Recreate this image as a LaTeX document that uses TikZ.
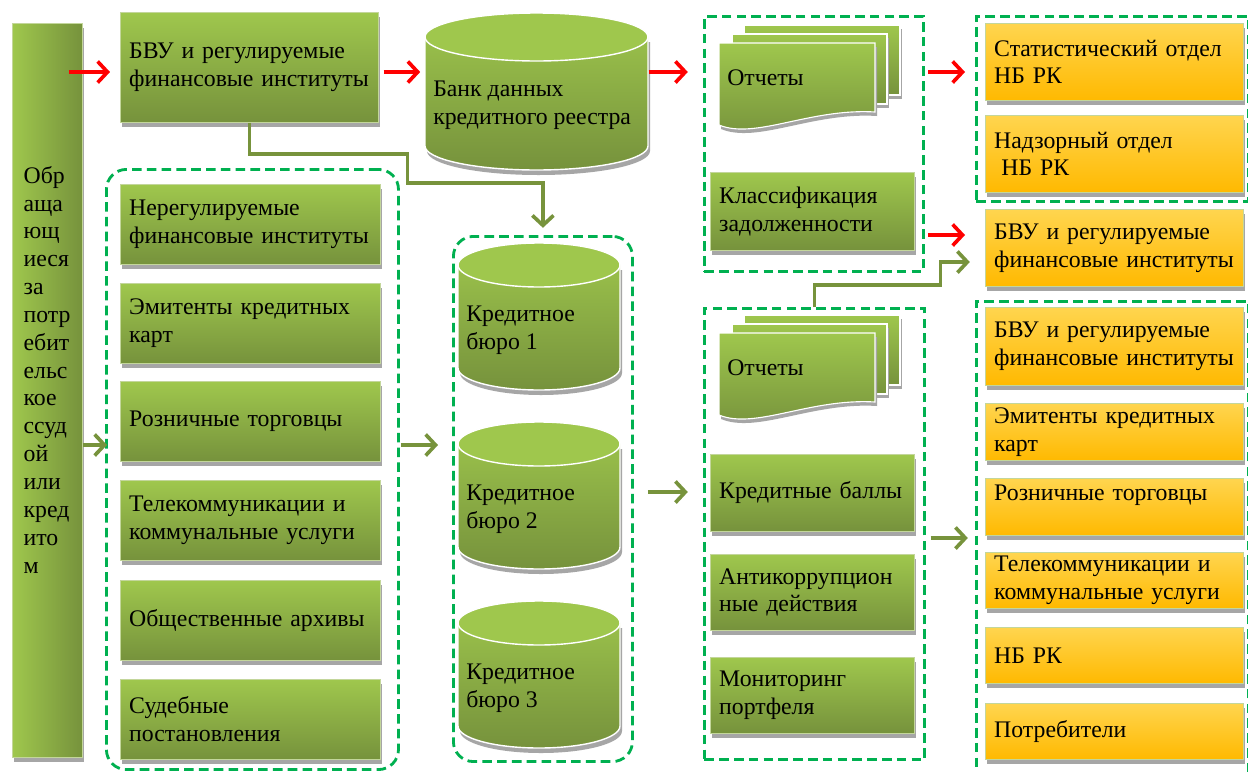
\documentclass[tikz,border=0pt]{standalone}
\usepackage{fontspec}
\setmainfont{Liberation Serif}
\usepackage{tikz}
\usetikzlibrary{arrows.meta, shadows}
\definecolor{grntop}{HTML}{9FC74D}
\definecolor{grnbot}{HTML}{76923C}
\definecolor{goldtop}{HTML}{FFD54F}
\definecolor{goldbot}{HTML}{FFB900}
\definecolor{boxedge}{HTML}{C3D69B}
\definecolor{shadowgray}{HTML}{A6A6A6}
\definecolor{dashgrn}{HTML}{00B050}
\definecolor{linkgrn}{HTML}{77933C}
\definecolor{linkred}{HTML}{FF0000}

\newcommand{\bodyfont}{\fontsize{16.9}{19.8}\selectfont}

% drum: centre x, top y, bottom y, x radius, y radius
\newcommand{\drumshape}[5]{%
  \fill[shadowgray] (#1-#4+2,#2+5) -- (#1-#4+2,#3+5) arc[start angle=180, end angle=0, x radius=#4, y radius=#5] -- (#1+#4+2,#2+5) -- cycle;
  \shadedraw[top color=grntop, bottom color=grnbot, draw=white, line width=1pt] (#1-#4,#2) -- (#1-#4,#3) arc[start angle=180, end angle=0, x radius=#4, y radius=#5] -- (#1+#4,#2) arc[start angle=0, end angle=-180, x radius=#4, y radius=#5] -- cycle;
  \filldraw[fill=grntop, draw=white, line width=1pt] (#1,#2) ellipse[x radius=#4, y radius=#5];
}

\begin{document}
\begin{tikzpicture}[x=0.025cm, y=-0.025cm,
  grnbox/.style={draw=boxedge, line width=0.6pt, top color=grntop, bottom color=grnbot,
    anchor=north west, align=left, inner xsep=0.22cm, inner ysep=0.05cm, font=\bodyfont,
    drop shadow={shadow xshift=0.04cm, shadow yshift=-0.12cm, fill=shadowgray, opacity=1}},
  goldbox/.style={grnbox, top color=goldtop, bottom color=goldbot},
  grp/.style={draw=dashgrn, line width=2pt, dash pattern=on 0.24cm off 0.13cm, anchor=north west, inner sep=0pt},
  rgrp/.style={grp, rounded corners=0.5cm},
  hitbox/.style={anchor=north west, inner sep=0pt},
  lbl/.style={font=\bodyfont, align=left, inner sep=0.1cm},
  sheet/.style={top color=grntop, bottom color=grnbot, draw=white, line width=0.8pt},
  redarr/.style={draw=linkred, line width=2.6pt, -{Straight Barb[length=7pt, width=15pt]}},
  grnarr/.style={draw=linkgrn, line width=2.6pt, -{Straight Barb[length=7pt, width=15pt]}}]

  % Page
  \useasboundingbox (0,0) rectangle (1248,771);
  \clip (0,0) rectangle (1248,771);
  \fill[white] (0,0) rectangle (1248,771);

  % Dashed groups
  \node[grp, minimum width=5.475cm, minimum height=6.375cm] (grp1) at (703,15) {};
  \node[grp, minimum width=6.8cm, minimum height=4.625cm] (grp2) at (975,15) {};
  \node[rgrp, minimum width=4.475cm, minimum height=13.125cm] (grp3) at (452,235) {};
  \node[rgrp, minimum width=7.3cm, minimum height=15cm] (grp4) at (105,168) {};
  \node[grp, minimum width=5.5cm, minimum height=11.275cm] (grp5) at (703,307) {};
  \node[grp, minimum width=6.8cm, minimum height=12cm] (grp6) at (975,300) {};

  % Borrowers bar
  \node[grnbox, left color=grntop, right color=grnbot, minimum width=1.75cm, minimum height=18.35cm,
    text width=1.19cm, inner xsep=0.28cm] (bar) at (12,23)
    {Обр\\аща\\ющ\\иеся\\за\\потр\\ебит\\ельс\\кое\\ссуд\\ой\\или\\кред\\ито\\м\\[0.35cm]\mbox{}};

  % Regulated institutions and data bank
  \node[grnbox, minimum width=6.45cm, minimum height=2.75cm, text width=6.01cm] (bvu) at (120,12) {БВУ и регулируемые\\финансовые институты};
  \drumshape{536.5}{37}{146}{111.5}{24}
  \node[hitbox, minimum width=5.575cm, minimum height=3.925cm] (bank) at (425,13) {};
  \node[lbl, anchor=west] (banktxt) at (429,105) {Банк данных\\кредитного реестра};

  % Left column of sources
  \node[grnbox, minimum width=6.5cm, minimum height=2cm, text width=6.06cm] (nfi) at (120,184) {Нерегулируемые\\финансовые институты};
  \node[grnbox, minimum width=6.5cm, minimum height=2cm, text width=6.06cm] (cards) at (120,283) {Эмитенты кредитных\\карт};
  \node[grnbox, minimum width=6.5cm, minimum height=2cm, text width=6.06cm] (retail) at (120,381) {Розничные торговцы};
  \node[grnbox, minimum width=6.5cm, minimum height=2cm, text width=6.06cm] (telco) at (120,480) {Телекоммуникации и\\коммунальные услуги};
  \node[grnbox, minimum width=6.5cm, minimum height=2cm, text width=6.06cm] (archive) at (120,580) {Общественные архивы};
  \node[grnbox, minimum width=6.5cm, minimum height=2cm, text width=6.06cm] (court) at (120,679) {Судебные\\постановления};

  % Credit bureaus
  \foreach \k/\ty in {1/265, 2/444, 3/623}{
    \drumshape{539}{\ty}{\ty+103}{81}{22}
    \node[lbl, anchor=west] (bur\k) at (462,\ty+65) {Кредитное\\бюро \k};
  }

  % Report stacks
  \foreach \dy/\nm in {0/rep1, 290/rep2}{
    \begin{scope}[shift={(0,\dy)}]
      \fill[shadowgray] (746,29) rectangle (902,99);
      \shadedraw[sheet] (744,25) rectangle (900,95);
      \fill[shadowgray] (734,38) rectangle (889,108);
      \shadedraw[sheet] (732,34) rectangle (887,104);
      \fill[shadowgray] (721,47) -- (877,47) -- (877,116) .. controls (812,112) and (757,144) .. (721,129) -- cycle;
      \shadedraw[sheet] (719,43) -- (875,43) -- (875,112) .. controls (810,108) and (755,140) .. (719,125) -- cycle;
      \node[lbl, anchor=west] (\nm) at (723,78) {Отчеты};
    \end{scope}
  }

  % Products
  \node[grnbox, minimum width=5.1cm, minimum height=1.95cm, text width=4.66cm] (clsf) at (710,172) {Классификация\\задолженности};
  \node[grnbox, minimum width=5.1cm, minimum height=1.925cm, text width=4.66cm] (score) at (710,454) {Кредитные баллы};
  \node[grnbox, minimum width=5.1cm, minimum height=1.9cm, text width=4.66cm] (anticor) at (710,554) {Антикоррупцион\\ные действия};
  \node[grnbox, minimum width=5.1cm, minimum height=1.9cm, text width=4.66cm] (monitor) at (710,657) {Мониторинг\\портфеля};

  % Users
  \node[goldbox, minimum width=6.45cm, minimum height=1.925cm, text width=6.01cm] (stat) at (985,23) {Статистический отдел\\НБ РК};
  \node[goldbox, minimum width=6.45cm, minimum height=1.925cm, text width=6.01cm] (supv) at (985,115) {Надзорный отдел\\\hspace*{0.3em}НБ РК};
  \node[goldbox, minimum width=6.45cm, minimum height=1.925cm, text width=6.01cm] (bvuout) at (985,209) {БВУ и регулируемые\\финансовые институты};
  \node[goldbox, minimum width=6.45cm, minimum height=1.95cm, text width=6.01cm] (bvu2) at (985,307) {БВУ и регулируемые\\финансовые институты};
  \node[goldbox, minimum width=6.45cm, minimum height=1.425cm, text width=6.01cm] (cards2) at (985,403) {Эмитенты кредитных\\карт};
  \node[goldbox, minimum width=6.45cm, minimum height=1.425cm, text width=6.01cm] (retail2) at (985,478) {Розничные торговцы\\~};
  \node[goldbox, minimum width=6.45cm, minimum height=1.4cm, text width=6.01cm] (telco2) at (985,552) {Телекоммуникации и\\коммунальные услуги};
  \node[goldbox, minimum width=6.45cm, minimum height=1.4cm, text width=6.01cm] (nbrk) at (985,627) {НБ РК};
  \node[goldbox, minimum width=6.45cm, minimum height=1.4cm, text width=6.01cm] (cons) at (985,703) {Потребители};

  % Arrow rows
  \coordinate (rowE) at (0,72);
  \coordinate (rowF) at (0,235);
  \coordinate (rowB) at (0,262);
  \coordinate (rowA) at (0,445);
  \coordinate (rowC) at (0,492);
  \coordinate (rowD) at (0,538);

  % Red flow
  \draw[redarr, shorten <=-0.35cm, shorten >=0.25cm] (bar.east |- rowE) -- (bvu.west |- rowE);
  \draw[redarr, shorten <=0.12cm, shorten >=0.12cm] (bvu.east |- rowE) -- (bank.west |- rowE);
  \draw[redarr, shorten >=0.38cm] (bank.east |- rowE) -- (grp1.west |- rowE);
  \draw[redarr, shorten <=0.08cm, shorten >=0.25cm] (grp1.east |- rowE) -- (grp2.west |- rowE);
  \draw[redarr, shorten <=0.08cm, shorten >=0.5cm] (grp1.east |- rowF) -- (bvuout.west |- rowF);

  % Green flow
  \draw[grnarr, shorten >=0.18cm] (bvu.south) -- ++(0,31) -- ++(158,0) -- ++(0,29) -| (grp3.north);
  \draw[grnarr, shorten >=-0.05cm] (bar.east |- rowA) -- (grp4.west |- rowA);
  \draw[grnarr, shorten <=0.03cm, shorten >=0.35cm] (grp4.east |- rowA) -- (grp3.west |- rowA);
  \draw[grnarr, shorten <=0.35cm, shorten >=0.38cm] (grp3.east |- rowC) -- (grp5.west |- rowC);
  \draw[grnarr, shorten <=0.12cm, shorten >=0.18cm] (grp5.east |- rowD) -- (grp6.west |- rowD);
  \draw[grnarr, shorten >=0.38cm] (grp5.north) -- ++(0,-22) -- ++(126,0) |- (bvuout.west |- rowB);
\end{tikzpicture}
\end{document}
